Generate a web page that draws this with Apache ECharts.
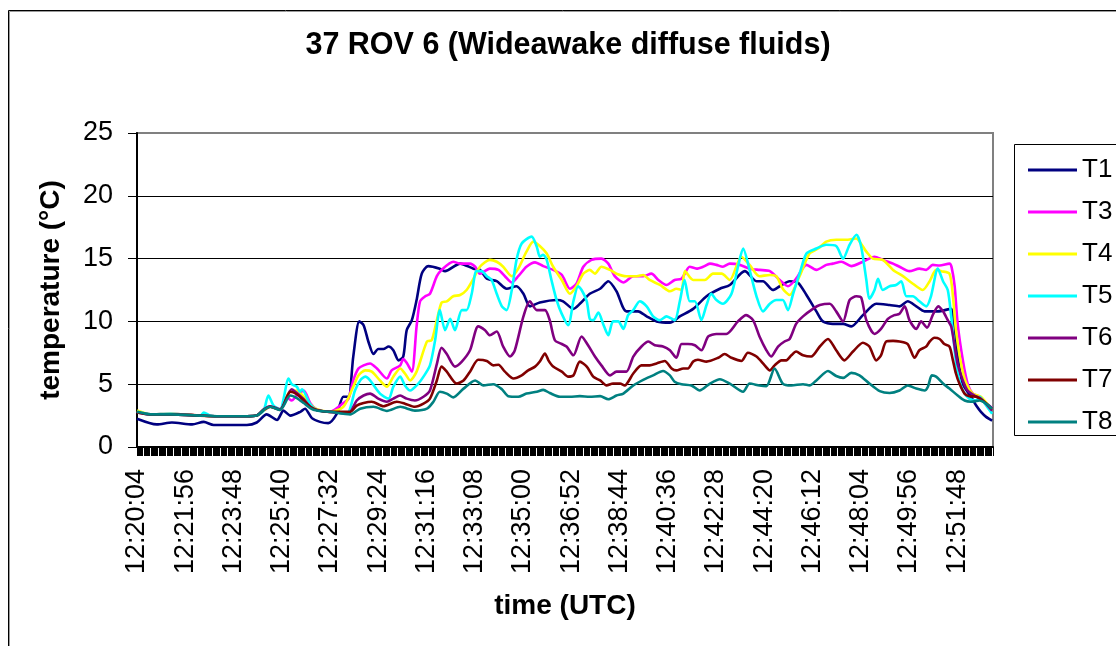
<!DOCTYPE html>
<html>
<head>
<meta charset="utf-8">
<script src="https://cdn.jsdelivr.net/npm/echarts@6/dist/echarts.min.js"></script>
<style>html,body{margin:0;padding:0;background:#fff;}#c{width:1116px;height:646px;}</style>
</head>
<body>
<div id="c"></div>
<script>
// time axis: seconds after 12:20:04
const xTickLabels = ['12:20:04','12:21:56','12:23:48','12:25:40','12:27:32','12:29:24','12:31:16','12:33:08','12:35:00','12:36:52','12:38:44','12:40:36','12:42:28','12:44:20','12:46:12','12:48:04','12:49:56','12:51:48'];
const tickStep = 112;
const xMax = 1987;
const seriesNames = ['T1','T3','T4','T5','T6','T7','T8'];
const seriesColors = ['#000080','#FF00FF','#FFFF00','#00FFFF','#800080','#800000','#008080'];

const T1 = [[0,2.25],[46,1.8],[81,1.95],[128,1.8],[155,2.0],[178,1.75],[255,1.75],[278,1.95],[301,2.6],[325,2.15],[340,2.9],[356,2.5],[379,2.8],[390,3.05],[406,2.3],[425,2.0],[444,1.9],[464,2.65],[479,4.0],[491,4.0],[502,7.2],[516,10.0],[526,9.7],[537,8.4],[549,7.4],[560,7.8],[572,7.8],[584,8.0],[595,7.7],[607,6.9],[618,7.2],[626,9.3],[638,10.1],[649,11.7],[661,13.8],[676,14.4],[703,14.2],[715,14.0],[750,14.6],[781,14.2],[796,14.1],[812,13.4],[835,13.2],[858,12.6],[881,12.8],[897,12.2],[912,11.2],[935,11.5],[974,11.7],[989,11.6],[1013,11.0],[1028,11.4],[1051,12.2],[1075,12.6],[1094,13.2],[1113,12.4],[1136,10.8],[1163,10.8],[1183,10.4],[1206,10.0],[1237,9.9],[1260,10.4],[1291,11.0],[1322,12.0],[1353,12.6],[1376,12.9],[1411,14.0],[1438,13.2],[1453,13.2],[1476,12.5],[1492,12.8],[1515,13.2],[1534,13.1],[1554,12.1],[1577,10.8],[1592,10.0],[1615,9.8],[1639,9.8],[1658,9.6],[1685,10.5],[1716,11.4],[1747,11.3],[1770,11.2],[1789,11.6],[1809,11.2],[1828,10.8],[1859,10.8],[1890,11.0],[1896,10.1],[1905,7.2],[1917,5.0],[1936,4.0],[1948,3.3],[1959,2.8],[1971,2.4],[1985,2.1]];

const T3 = [[0,2.8],[31,2.6],[77,2.65],[147,2.5],[186,2.45],[255,2.45],[278,2.5],[294,2.9],[309,3.2],[332,3.0],[350,3.9],[359,3.7],[371,4.1],[387,4.5],[402,3.5],[417,3.0],[448,2.8],[479,3.5],[491,3.85],[502,5.3],[514,6.25],[526,6.5],[541,6.65],[557,6.25],[580,5.45],[591,6.1],[611,6.5],[618,7.0],[626,6.7],[638,6.0],[649,9.6],[657,11.6],[669,12.0],[680,12.2],[696,13.6],[707,14.1],[734,14.75],[750,14.6],[773,14.6],[785,14.35],[796,13.8],[819,14.2],[839,14.1],[854,13.6],[870,13.1],[885,13.6],[904,14.35],[924,14.7],[943,14.4],[966,14.1],[986,13.7],[1005,12.6],[1020,13.0],[1036,14.35],[1055,14.9],[1078,15.0],[1094,14.6],[1109,13.6],[1129,13.1],[1152,13.6],[1175,13.6],[1194,13.8],[1210,13.3],[1229,12.9],[1248,13.3],[1264,13.4],[1283,14.35],[1299,14.2],[1314,14.35],[1330,14.6],[1345,14.5],[1360,14.35],[1376,14.6],[1399,14.5],[1422,14.2],[1445,14.1],[1469,14.0],[1492,13.3],[1511,12.8],[1530,13.4],[1554,14.5],[1577,14.1],[1600,14.5],[1615,14.6],[1635,14.75],[1658,14.4],[1685,14.75],[1712,15.15],[1731,14.9],[1755,14.6],[1770,14.35],[1793,14.0],[1816,14.2],[1832,14.1],[1847,14.5],[1863,14.45],[1886,14.6],[1891,14.3],[1898,12.8],[1905,9.8],[1917,6.9],[1928,5.05],[1940,4.25],[1956,4.0],[1971,3.5],[1985,3.1]];

const T4 = [[0,2.9],[31,2.6],[77,2.65],[147,2.5],[186,2.45],[255,2.45],[278,2.5],[294,2.9],[309,3.2],[332,3.0],[352,4.3],[371,4.5],[387,4.0],[402,3.4],[417,3.0],[448,2.8],[479,3.2],[502,4.8],[514,5.7],[530,6.1],[545,6.0],[564,5.3],[580,4.8],[595,5.6],[611,6.25],[622,5.85],[634,5.3],[649,6.0],[673,8.4],[684,8.5],[696,10.1],[707,11.5],[719,11.6],[734,12.0],[750,12.1],[765,12.5],[781,13.4],[796,14.35],[819,14.9],[835,14.75],[850,14.35],[870,13.6],[885,14.2],[904,15.55],[920,16.35],[935,16.0],[951,15.4],[966,14.35],[986,13.3],[1005,12.2],[1020,12.8],[1036,13.8],[1051,14.1],[1063,13.8],[1078,14.35],[1098,14.1],[1113,13.8],[1136,13.6],[1160,13.6],[1175,13.7],[1190,13.3],[1214,12.9],[1237,12.4],[1252,12.6],[1264,12.5],[1272,14.0],[1291,13.3],[1318,13.3],[1337,13.8],[1357,13.8],[1376,13.3],[1403,15.15],[1422,14.5],[1445,13.6],[1469,13.7],[1484,13.6],[1499,12.6],[1515,12.1],[1538,13.6],[1561,15.4],[1581,15.8],[1600,16.35],[1623,16.5],[1650,16.5],[1669,16.6],[1693,15.55],[1708,15.0],[1731,14.9],[1755,14.1],[1778,13.6],[1801,13.0],[1824,12.5],[1840,13.2],[1855,14.1],[1867,14.0],[1886,13.8],[1894,12.0],[1901,9.3],[1913,6.6],[1925,5.05],[1940,4.25],[1959,4.0],[1985,2.9]];

const T5 = [[0,2.8],[31,2.6],[77,2.65],[147,2.5],[155,2.75],[170,2.5],[186,2.45],[255,2.45],[278,2.5],[294,2.9],[305,4.1],[317,3.3],[332,3.0],[352,5.45],[359,5.0],[371,4.8],[378,4.4],[383,4.6],[402,3.4],[417,2.95],[448,2.8],[487,2.66],[506,4.5],[518,5.3],[530,5.6],[541,5.3],[564,4.25],[584,3.85],[595,4.8],[611,5.6],[622,4.9],[634,4.5],[653,5.05],[665,5.6],[680,6.5],[692,8.5],[703,10.9],[715,9.3],[727,10.2],[738,9.3],[754,10.9],[765,10.9],[777,12.2],[788,14.0],[800,14.0],[812,13.6],[823,13.3],[835,12.2],[847,11.2],[858,10.9],[870,12.5],[881,14.9],[893,16.2],[916,16.75],[928,15.95],[935,15.15],[943,15.3],[951,14.9],[962,13.3],[974,11.7],[986,10.6],[1001,9.7],[1013,11.6],[1024,12.8],[1032,12.5],[1044,11.6],[1051,10.2],[1059,10.1],[1071,10.7],[1082,9.8],[1094,8.9],[1105,10.0],[1117,10.0],[1129,9.4],[1140,10.5],[1152,10.9],[1167,11.6],[1183,11.2],[1198,10.4],[1214,10.1],[1229,10.4],[1248,10.1],[1260,11.6],[1271,13.3],[1283,11.6],[1295,11.6],[1310,10.1],[1322,11.3],[1333,12.2],[1345,11.7],[1360,11.4],[1380,12.2],[1395,14.35],[1407,15.8],[1422,14.1],[1438,12.0],[1453,10.8],[1469,11.4],[1484,11.7],[1499,11.7],[1511,10.9],[1523,12.2],[1538,13.8],[1554,15.4],[1577,15.8],[1600,16.1],[1623,16.0],[1639,15.0],[1654,16.1],[1670,16.9],[1681,15.95],[1693,13.3],[1700,11.8],[1712,12.5],[1720,13.4],[1731,12.5],[1747,12.8],[1762,12.9],[1774,13.2],[1786,12.0],[1801,12.0],[1816,11.6],[1832,11.2],[1843,12.0],[1859,14.2],[1871,13.2],[1882,12.5],[1890,10.4],[1898,7.7],[1905,5.85],[1917,4.5],[1932,3.85],[1948,3.7],[1956,4.0],[1967,3.5],[1985,2.65]];

const T6 = [[0,2.75],[31,2.6],[77,2.6],[147,2.5],[186,2.45],[255,2.45],[278,2.5],[294,3.0],[309,3.25],[332,3.0],[359,4.6],[371,4.3],[387,3.8],[402,3.2],[417,2.95],[448,2.8],[491,2.7],[510,3.7],[526,4.1],[541,4.25],[560,3.85],[580,3.6],[595,3.85],[611,4.1],[626,3.85],[645,3.7],[665,4.0],[680,4.5],[696,6.6],[707,7.9],[719,7.4],[738,6.4],[754,6.8],[773,7.7],[792,9.6],[808,9.3],[819,8.9],[835,9.2],[850,8.0],[866,7.2],[877,7.7],[897,10.4],[912,11.6],[928,10.9],[947,10.9],[958,10.1],[970,8.5],[986,8.2],[997,8.0],[1013,7.3],[1032,8.8],[1047,8.1],[1063,7.2],[1078,6.5],[1098,5.7],[1113,6.0],[1136,6.0],[1152,7.2],[1171,8.0],[1187,8.4],[1202,8.1],[1221,8.0],[1237,7.7],[1252,7.1],[1264,8.2],[1279,8.2],[1295,8.1],[1310,7.7],[1326,8.8],[1345,9.0],[1368,9.0],[1395,10.0],[1414,10.5],[1430,10.1],[1445,8.8],[1461,7.7],[1472,7.2],[1488,8.0],[1503,8.4],[1515,8.6],[1530,9.8],[1546,10.4],[1569,11.0],[1585,11.3],[1608,11.4],[1623,10.8],[1639,10.0],[1654,11.7],[1670,12.0],[1681,11.9],[1693,10.1],[1712,9.0],[1727,9.4],[1743,10.2],[1758,10.5],[1770,10.6],[1782,11.2],[1793,10.1],[1809,9.4],[1820,10.0],[1834,9.5],[1847,10.5],[1860,11.2],[1871,10.8],[1882,10.1],[1890,9.6],[1898,8.0],[1905,6.6],[1917,5.3],[1928,4.5],[1944,4.1],[1959,3.85],[1985,2.9]];

const T7 = [[0,2.75],[31,2.6],[77,2.6],[147,2.5],[186,2.45],[255,2.45],[278,2.5],[294,2.95],[309,3.2],[332,2.95],[356,4.4],[371,4.2],[387,3.7],[402,3.2],[417,2.95],[448,2.8],[495,2.8],[510,3.3],[526,3.5],[545,3.6],[572,3.25],[603,3.6],[622,3.45],[645,3.2],[665,3.45],[680,3.85],[696,5.3],[707,6.4],[719,6.0],[742,5.05],[758,5.3],[773,6.0],[792,6.95],[812,6.85],[827,6.5],[839,6.55],[854,6.0],[874,5.45],[893,5.7],[908,6.1],[924,6.4],[935,6.8],[947,7.45],[955,6.9],[966,6.4],[986,6.0],[1001,5.6],[1013,5.7],[1028,6.8],[1044,6.4],[1059,5.6],[1075,5.3],[1090,4.9],[1105,5.05],[1121,5.05],[1132,4.9],[1152,5.85],[1171,6.5],[1190,6.5],[1206,6.65],[1225,6.85],[1241,6.25],[1252,6.1],[1268,6.25],[1279,6.25],[1291,6.8],[1302,6.95],[1322,6.8],[1349,7.1],[1364,7.4],[1380,7.1],[1403,6.85],[1418,7.5],[1438,7.2],[1457,6.5],[1469,6.1],[1480,6.5],[1496,6.9],[1507,6.9],[1519,7.3],[1530,7.6],[1546,7.3],[1565,7.2],[1585,8.0],[1604,8.6],[1623,7.7],[1642,6.9],[1662,7.6],[1685,8.3],[1700,8.0],[1716,6.9],[1727,7.3],[1739,8.4],[1755,8.45],[1770,8.4],[1789,8.2],[1805,7.1],[1816,7.7],[1832,8.0],[1840,8.4],[1851,8.7],[1863,8.6],[1874,8.2],[1886,8.0],[1894,6.9],[1901,5.85],[1909,5.05],[1921,4.25],[1932,4.05],[1948,4.0],[1963,3.7],[1985,3.05]];

const T8 = [[0,2.8],[31,2.6],[77,2.6],[147,2.5],[186,2.45],[255,2.45],[278,2.5],[294,2.95],[309,3.2],[332,2.95],[356,4.1],[371,3.9],[387,3.5],[402,3.1],[417,2.9],[448,2.8],[495,2.6],[518,3.05],[549,3.2],[580,2.87],[611,3.2],[645,2.9],[673,3.05],[688,3.6],[703,4.4],[719,4.25],[734,3.95],[758,4.65],[785,5.3],[804,4.9],[827,5.0],[847,4.6],[862,4.05],[885,4.0],[904,4.25],[928,4.4],[943,4.55],[958,4.3],[982,4.0],[1005,4.0],[1028,4.05],[1051,4.0],[1075,4.05],[1094,3.8],[1113,4.1],[1129,4.25],[1152,4.9],[1175,5.35],[1198,5.7],[1221,6.05],[1237,5.7],[1248,5.2],[1264,5.0],[1287,4.9],[1306,4.5],[1330,5.05],[1353,5.4],[1376,5.05],[1407,4.4],[1422,5.05],[1445,4.9],[1461,4.85],[1480,6.25],[1499,5.05],[1519,4.9],[1546,5.0],[1561,4.9],[1577,5.3],[1604,6.05],[1623,5.65],[1639,5.5],[1658,5.9],[1677,5.7],[1700,5.05],[1724,4.45],[1747,4.3],[1770,4.5],[1789,4.9],[1809,4.65],[1828,4.5],[1836,4.8],[1845,5.7],[1855,5.6],[1871,5.05],[1886,4.65],[1905,4.1],[1921,3.7],[1936,3.6],[1956,3.7],[1971,3.45],[1985,3.05]];

const seriesData = [T1, T3, T4, T5, T6, T7, T8];
const FONT = '"Liberation Sans", Arial, Helvetica, sans-serif';

const chart = echarts.init(document.getElementById('c'), null, {renderer: 'canvas'});
chart.setOption({
  animation: false,
  backgroundColor: '#ffffff',
  grid: {left: 137, right: 123, top: 133, bottom: 199, show: true, borderColor: '#808080', borderWidth: 2, containLabel: false, outerBoundsMode: 'none'},
  xAxis: {
    type: 'value', min: 0, max: xMax, interval: tickStep,
    axisLine: {show: true, onZero: false, lineStyle: {color: '#000', width: 2}},
    axisTick: {show: true, length: 9, lineStyle: {color: '#000', width: 1}},
    minorTick: {show: true, splitNumber: 42, length: 9, lineStyle: {color: '#000', width: 1}},
    splitLine: {show: false},
    axisLabel: {
      rotate: 90, margin: 22, color: '#000', fontSize: 27, fontFamily: FONT,
      showMaxLabel: false,
      formatter: function (v) {
        const i = Math.round(v / tickStep);
        if (Math.abs(v - i * tickStep) > 0.01) return '';
        return xTickLabels[i] || '';
      }
    }
  },
  yAxis: {
    type: 'value', min: 0, max: 25, interval: 5,
    axisLine: {show: true, lineStyle: {color: '#000', width: 2}},
    axisTick: {show: true, length: 9, lineStyle: {color: '#000', width: 1}},
    splitLine: {show: true, showMinLine: false, showMaxLine: false, lineStyle: {color: '#000', width: 1}},
    axisLabel: {margin: 24, color: '#000', fontSize: 27, fontFamily: FONT}
  },
  legend: {
    show: true, orient: 'vertical', left: 1023, top: 150,
    icon: 'rect', itemWidth: 49, itemHeight: 3, itemGap: 12,
    textStyle: {color: '#000', fontSize: 26, fontFamily: FONT, lineHeight: 30},
    data: seriesNames
  },
  graphic: [
    {type: 'rect', silent: true, shape: {x: 8.5, y: 10.5, width: 1200, height: 700}, style: {fill: 'none', stroke: '#000', lineWidth: 1}},
    {type: 'rect', silent: true, shape: {x: 9.5, y: 11.5, width: 1200, height: 700}, style: {fill: 'none', stroke: '#9a9a9a', lineWidth: 1}},
    {type: 'rect', silent: true, shape: {x: 1014.5, y: 144.5, width: 200, height: 291}, style: {fill: 'none', stroke: '#000', lineWidth: 1}},
    {type: 'text', silent: true, x: 568, y: 46, style: {text: '37 ROV 6 (Wideawake diffuse fluids)', fill: '#000', font: 'bold 30.5px ' + FONT, textAlign: 'center', textVerticalAlign: 'middle'}},
    {type: 'text', silent: true, x: 565, y: 606, style: {text: 'time (UTC)', fill: '#000', font: 'bold 28px ' + FONT, textAlign: 'center', textVerticalAlign: 'middle'}},
    {type: 'text', silent: true, x: 51, y: 290, rotation: Math.PI / 2, style: {text: 'temperature (°C)', fill: '#000', font: 'bold 28px ' + FONT, textAlign: 'center', textVerticalAlign: 'middle'}}
  ],
  series: seriesNames.map(function (n, i) {
    return {
      name: n, type: 'line', data: seriesData[i], showSymbol: false, symbol: 'none',
      smooth: 0.25, color: seriesColors[i],
      lineStyle: {color: seriesColors[i], width: 2.6}, z: 2 + i
    };
  })
});
</script>
</body>
</html>
